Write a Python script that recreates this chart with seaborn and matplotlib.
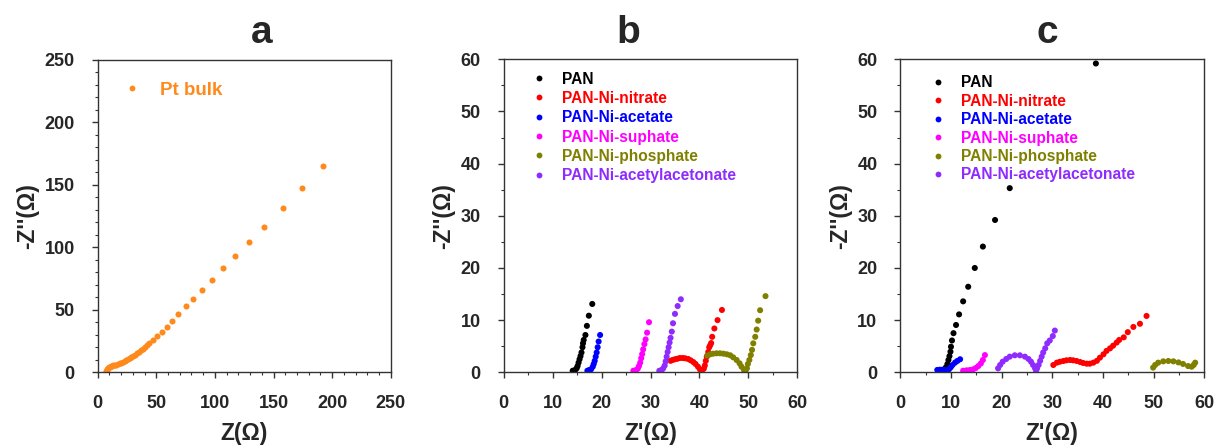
import numpy as np
import pandas as pd
import matplotlib
matplotlib.use("Agg")
import matplotlib.pyplot as plt
from matplotlib.lines import Line2D
from matplotlib.ticker import MultipleLocator
import seaborn as sns

# ---------------- data ----------------
pt_x = [7.0, 7.3, 7.7, 8.2, 8.8, 9.5, 10.3, 11.2, 12.2, 13.4, 14.7, 16.0, 17.4, 18.8, 20.2,
        21.6, 23.0, 24.4, 25.8, 27.3, 28.8, 30.3, 31.9, 33.5, 35.1, 36.8, 38.6, 40.4, 42.2, 44.1,
        46.9, 50.9, 54.6, 58.9, 63.1, 68.8, 75.4, 81.6, 89.0, 97.8, 107.2, 117.2, 128.8, 142.2,
        157.8, 174.0, 192.5]
pt_y = [0.4, 1.2, 2.0, 2.8, 3.5, 4.1, 4.6, 5.0, 5.3, 5.6, 5.9, 6.2, 6.6, 7.1, 7.6,
        8.2, 8.9, 9.6, 10.4, 11.3, 12.2, 13.2, 14.2, 15.3, 16.4, 17.6, 18.9, 20.2, 21.6, 23.2,
        25.6, 28.9, 32.4, 36.6, 41.0, 46.5, 52.9, 59.0, 66.1, 73.9, 83.3, 93.4, 104.1, 116.3,
        131.3, 147.6, 164.6]

series_names = ["PAN", "PAN-Ni-nitrate", "PAN-Ni-acetate", "PAN-Ni-suphate",
                "PAN-Ni-phosphate", "PAN-Ni-acetylacetonate"]
series_colors = ["#000000", "#FF0000", "#0000FF", "#FF00FF", "#808000", "#8F2BFF"]

# panel b
b_pan_x = [14.1, 14.6, 14.9, 15.1, 15.3, 15.5, 15.7, 15.9, 16.1, 16.2, 16.35, 16.7, 17.0, 17.4, 18.1]
b_pan_y = [0.3, 0.44, 0.76, 1.2, 1.85, 2.5, 3.1, 3.8, 4.8, 5.55, 6.2, 7.15, 8.9, 10.85, 13.1]
b_nit_x = [34.1, 34.5, 35.0, 35.5, 36.0, 36.6, 37.1, 37.7, 38.2, 38.75, 39.2, 39.7, 40.1, 40.5,
           40.9, 41.1, 41.3, 41.5, 41.8, 42.0, 42.2, 42.4, 42.6, 43.05, 43.7, 44.6]
b_nit_y = [2.2, 2.36, 2.5, 2.6, 2.74, 2.74, 2.68, 2.55, 2.3, 1.97, 1.6, 1.07, 0.57, 0.3,
           0.7, 1.3, 2.2, 3.0, 3.9, 4.8, 5.2, 5.6, 6.8, 8.4, 10.0, 11.95]
b_ace_x = [17.1, 17.5, 17.85, 18.2, 18.4, 18.6, 18.8, 19.0, 19.2, 19.4, 19.7]
b_ace_y = [0.3, 0.44, 0.57, 1.07, 1.6, 2.2, 3.0, 3.8, 4.8, 5.9, 7.15]
b_sul_x = [26.5, 27.05, 27.4, 27.65, 27.9, 28.1, 28.3, 28.5, 28.75, 29.0, 29.3, 29.7]
b_sul_y = [0.3, 0.44, 0.7, 1.2, 1.85, 2.7, 3.5, 4.4, 5.4, 6.3, 7.6, 9.6]
b_pho_x = [41.6, 42.2, 42.8, 43.5, 44.2, 44.9, 45.6, 46.3, 46.9, 47.6, 48.2, 48.6, 49.1, 49.4,
           49.7, 49.9, 50.2, 50.5, 50.75, 51.0, 51.4, 51.7, 52.0, 52.4, 53.5]
b_pho_y = [3.2, 3.45, 3.57, 3.64, 3.64, 3.57, 3.45, 3.26, 2.87, 2.36, 1.72, 1.07, 0.44, 0.3,
           0.76, 1.6, 2.36, 3.3, 4.3, 5.55, 6.8, 8.2, 9.9, 11.9, 14.6]
b_aca_x = [31.8, 32.3, 32.6, 32.9, 33.1, 33.3, 33.5, 33.7, 33.9, 34.1, 34.35, 34.6, 35.0, 35.55, 36.2]
b_aca_y = [0.3, 0.44, 0.76, 1.3, 2.1, 3.0, 3.9, 4.8, 5.7, 6.6, 7.8, 9.4, 11.2, 12.7, 14.0]

# panel c
c_pan_x = [8.8, 9.0, 9.3, 9.5, 9.7, 9.9, 10.0, 10.2, 10.5, 11.0, 11.6, 12.4, 13.4, 14.7,
           16.3, 18.7, 21.6, 38.6]
c_pan_y = [0.44, 0.95, 1.6, 2.36, 3.1, 3.95, 4.9, 6.1, 7.5, 9.07, 11.1, 13.6, 16.4, 20.0,
           24.1, 29.2, 35.3, 59.2]
c_nit_x = [30.2, 30.9, 31.5, 32.2, 32.8, 33.5, 34.1, 34.8, 35.5, 36.1, 36.8, 37.4, 38.1, 38.8,
           39.4, 40.1, 40.7, 41.4, 42.0, 42.7, 43.2, 44.1, 44.9, 46.0, 47.3, 48.6]
c_nit_y = [1.4, 1.85, 2.03, 2.17, 2.3, 2.36, 2.3, 2.17, 1.97, 1.78, 1.65, 1.65, 1.85, 2.2,
           2.8, 3.45, 4.1, 4.6, 5.1, 5.7, 6.2, 6.7, 7.7, 8.7, 9.3, 10.8]
c_ace_x = [7.3, 7.8, 8.3, 8.8, 9.2, 9.6, 9.95, 10.3, 10.8, 11.25, 11.8]
c_ace_y = [0.45, 0.5, 0.5, 0.45, 0.4, 0.57, 0.95, 1.4, 1.85, 2.17, 2.5]
c_sul_x = [12.4, 13.1, 13.75, 14.4, 14.9, 15.4, 15.9, 16.3, 16.7]
c_sul_y = [0.3, 0.38, 0.44, 0.57, 0.82, 1.2, 1.7, 2.36, 3.3]
c_pho_x = [49.9, 50.3, 50.9, 51.9, 52.9, 53.9, 54.9, 55.8, 56.8, 57.5, 57.9, 58.2]
c_pho_y = [0.9, 1.4, 1.85, 2.1, 2.17, 2.1, 1.9, 1.6, 1.2, 1.07, 1.4, 1.85]
c_aca_x = [19.3, 19.7, 20.2, 20.9, 21.6, 22.6, 23.6, 24.6, 25.3, 25.8, 26.2, 26.6, 26.8, 27.0,
           27.3, 27.6, 27.9, 28.2, 28.6, 29.0, 29.5, 30.1, 30.5]
c_aca_y = [0.76, 1.4, 2.03, 2.55, 3.0, 3.26, 3.26, 3.0, 2.55, 2.03, 1.4, 0.76, 0.3, 0.76,
           1.4, 2.2, 3.0, 3.8, 4.6, 5.55, 6.1, 6.95, 8.0]

panel_titles = ["a", "b", "c"]
x_labels = ["Z(\u03a9)", "Z'(\u03a9)", "Z'(\u03a9)"]
y_label = "-Z''(\u03a9)"

# ---------------- style ----------------
sns.set_theme(style="white")
plt.rcParams["font.family"] = ["Liberation Sans", "DejaVu Sans"]
plt.rcParams["font.weight"] = "bold"

fig = plt.figure(figsize=(12.15, 4.45), dpi=100)
W, H = 1215, 445
def add_ax(l, r, t, b):
    return fig.add_axes([l / W, 1 - b / H, (r - l) / W, (b - t) / H])

ax_a = add_ax(97.7, 390.7, 59.7, 372.3)
ax_b = add_ax(503.7, 797.3, 59.3, 372.3)
ax_c = add_ax(900.3, 1204.3, 59.3, 372.3)

def build(xs, ys):
    frames = []
    for name, x, y in zip(series_names, xs, ys):
        frames.append(pd.DataFrame({"x": x, "y": y, "s": name}))
    return pd.concat(frames, ignore_index=True)

df_a = pd.DataFrame({"x": pt_x, "y": pt_y, "s": "Pt bulk"})
df_b = build([b_pan_x, b_nit_x, b_ace_x, b_sul_x, b_pho_x, b_aca_x],
             [b_pan_y, b_nit_y, b_ace_y, b_sul_y, b_pho_y, b_aca_y])
df_c = build([c_pan_x, c_nit_x, c_ace_x, c_sul_x, c_pho_x, c_aca_x],
             [c_pan_y, c_nit_y, c_ace_y, c_sul_y, c_pho_y, c_aca_y])

orange = "#FF8A1C"
pal = dict(zip(series_names, series_colors))
msize = 19

sns.scatterplot(data=df_a, x="x", y="y", color=orange, s=msize, linewidth=0, ax=ax_a, legend=False)
sns.scatterplot(data=df_b, x="x", y="y", hue="s", palette=pal, s=msize, linewidth=0, ax=ax_b, legend=False)
sns.scatterplot(data=df_c, x="x", y="y", hue="s", palette=pal, s=msize, linewidth=0, ax=ax_c, legend=False)

def style(ax, lim, major, minor, xlabel, title, tx):
    ax.set_xlim(0, lim)
    ax.set_ylim(0, lim)
    ax.xaxis.set_major_locator(MultipleLocator(major))
    ax.yaxis.set_major_locator(MultipleLocator(major))
    ax.xaxis.set_minor_locator(MultipleLocator(minor))
    ax.yaxis.set_minor_locator(MultipleLocator(minor))
    ax.tick_params(which="major", direction="out", length=4.5, width=1, color="#333333",
                   labelsize=13, pad=12, bottom=True, left=True, top=False, right=False)
    ax.tick_params(which="minor", direction="out", length=2.5, width=0.8, color="#333333",
                   bottom=True, left=True, top=False, right=False)
    for lab in ax.get_xticklabels() + ax.get_yticklabels():
        lab.set_fontweight("bold")
    for sp in ax.spines.values():
        sp.set_visible(True)
        sp.set_color("#333333")
        sp.set_linewidth(1.0)
    ax.set_xlabel(xlabel, fontsize=16.5, fontweight="bold", labelpad=7)
    ax.set_ylabel(y_label, fontsize=16.5, fontweight="bold", labelpad=4)
    ax.set_title(title, fontsize=28, fontweight="bold", pad=12, x=tx)
    ax.set_facecolor("white")

style(ax_a, 250, 50, 10, x_labels[0], panel_titles[0], 0.559)
style(ax_b, 60, 10, 5, x_labels[1], panel_titles[1], 0.423)
style(ax_c, 60, 10, 5, x_labels[2], panel_titles[2], 0.484)

def legend(ax, names, colors, bx, by, fs, spacing):
    handles = [Line2D([], [], marker="o", linestyle="none", markersize=4.2,
                      markerfacecolor=c, markeredgewidth=0) for c in colors]
    leg = ax.legend(handles, names, loc="upper left", bbox_to_anchor=(bx, by),
                    frameon=False, handlelength=1.0, handletextpad=1.0,
                    borderpad=0, borderaxespad=0, labelspacing=spacing,
                    prop={"weight": "bold", "size": fs})
    for t, c in zip(leg.get_texts(), colors):
        t.set_color(c)

legend(ax_a, ["Pt bulk"], [orange], 0.085, 0.93, 13.5, 0.3)
legend(ax_b, series_names, series_colors, 0.094, 0.961, 11.2, 0.28)
legend(ax_c, series_names, series_colors, 0.097, 0.949, 11.2, 0.22)

fig.savefig("out.png", dpi=100, facecolor="white")
